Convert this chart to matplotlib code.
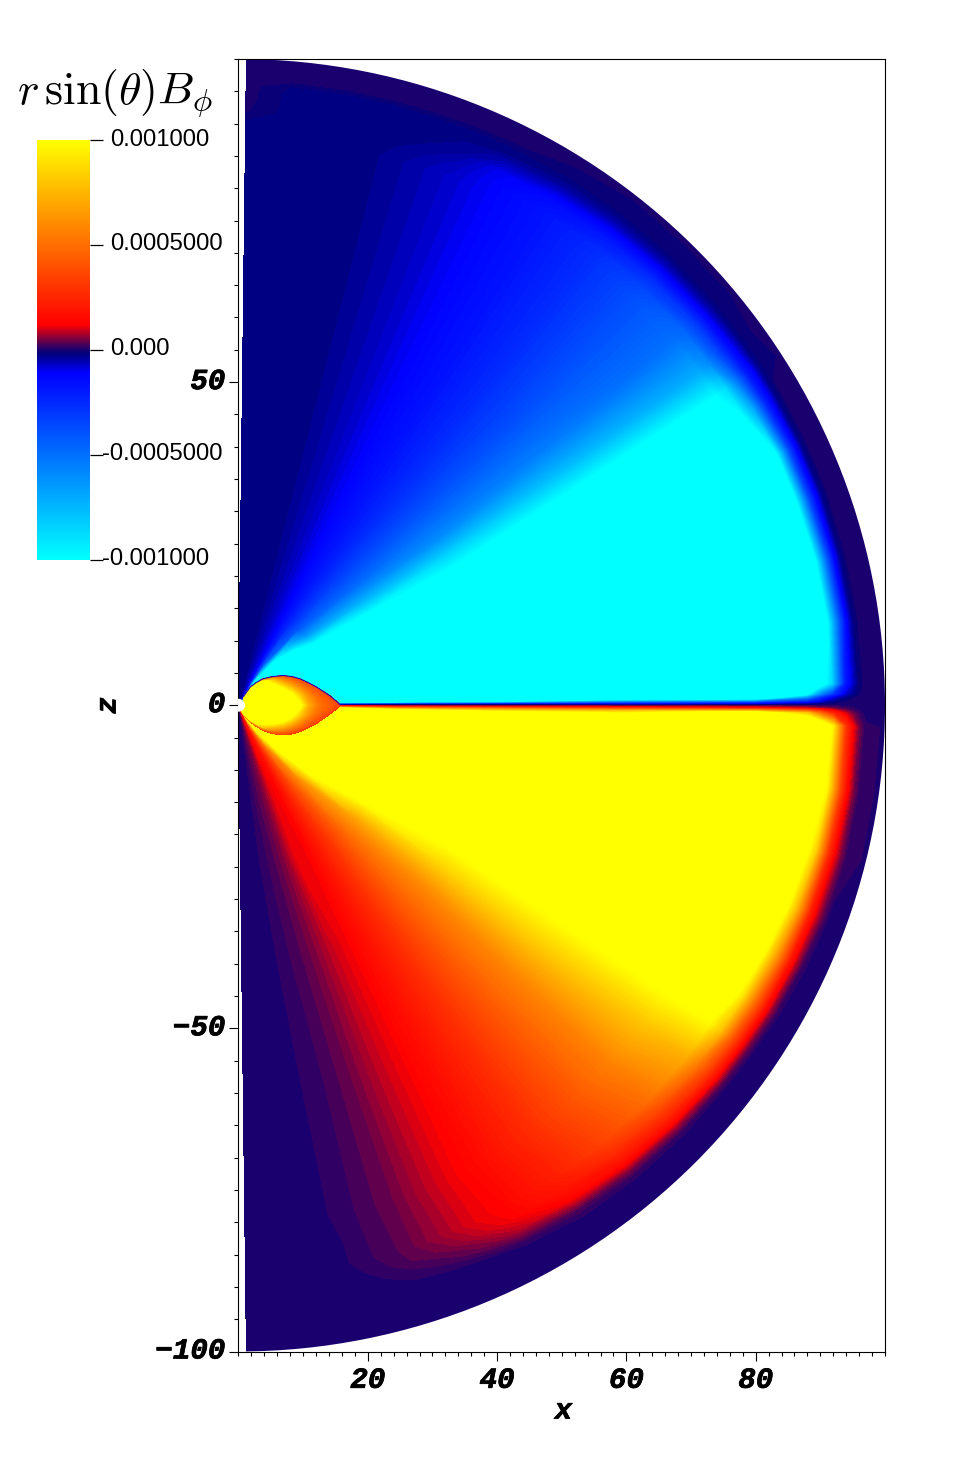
#!/usr/bin/env python3

import matplotlib

matplotlib.use("Agg")
import matplotlib.pyplot as plt
from matplotlib.cm import ScalarMappable
from matplotlib.colors import LinearSegmentedColormap, Normalize
from matplotlib.patches import Circle
import matplotlib.patheffects as pe
from matplotlib.ticker import MultipleLocator, NullFormatter
from matplotlib.transforms import ScaledTranslation
import numpy as np


# Field, units of 1e-3, on (theta, r) nodes
# last node sits outside the domain, the mesh gets clipped at r_max
r_max = 100
r_nodes = [1, 4, 8, 15, 25, 40, 60, 80, 88, 90, 92, 94, 95, 96, 97, 103]

# angle from +z
theta_up = [0.7, 5, 10, 14, 18, 22, 26, 32, 38, 44, 50, 54, 57, 60, 65, 70, 76, 82, 88, 89, 89.3, 89.8]
field_up = [
    [-.025, -.025, -.025, -.025, -.025, -.025, -.025, -.025, -.025, -.025, -.005, 0, 0, 0, 0, 0],
    [-.025, -.025, -.025, -.025, -.025, -.025, -.025, -.025, -.025, -.025, -.025, -.025, -.025, -.02, 0, 0],
    [-.025, -.025, -.025, -.025, -.025, -.025, -.025, -.025, -.025, -.025, -.025, -.025, -.025, -.02, 0, 0],
    [-.03, -.03, -.03, -.03, -.03, -.03, -.03, -.03, -.03, -.025, -.025, -.025, -.025, -.02, 0, 0],
    [-.05, -.05, -.05, -.05, -.05, -.05, -.05, -.05, -.05, -.04, -.028, -.025, -.025, -.02, 0, 0],
    [-.075, -.075, -.075, -.075, -.075, -.075, -.075, -.075, -.075, -.065, -.045, -.032, -.028, -.022, -.004, 0],
    [-.13, -.13, -.11, -.11, -.11, -.11, -.11, -.11, -.11, -.11, -.1, -.05, -.03, -.022, -.006, 0],
    [-1, -1, -.45, -.25, -.2, -.18, -.17, -.17, -.17, -.17, -.14, -.07, -.04, -.024, -.008, 0],
    [-1.3, -1.3, -1.05, -.42, -.33, -.28, -.26, -.26, -.26, -.25, -.19, -.09, -.05, -.026, -.01, 0],
    [-1.5, -1.5, -1.4, -.65, -.48, -.42, -.38, -.38, -.38, -.35, -.26, -.11, -.06, -.028, -.01, 0],
    [-1.5, -1.5, -1.5, -1, -.75, -.6, -.55, -.5, -.5, -.47, -.33, -.13, -.07, -.03, -.01, 0],
    [-1.5, -1.5, -1.5, -1.3, -.98, -.85, -.78, -.72, -.7, -.6, -.38, -.15, -.08, -.03, -.008, 0],
    [-1.5, -1.5, -1.5, -1.5, -1.15, -1, -1, -1, -1, -.88, -.55, -.2, -.11, -.035, -.01, 0],
    [-1.5, -1.5, -1.5, -1.5, -1.4, -1.4, -1.4, -1.4, -1.3, -1, -.7, -.25, -.11, -.03, -.003, 0],
    [-1.5, -1.5, -1.5, -1.5, -1.5, -1.5, -1.5, -1.5, -1.5, -1.3, -1, -.35, -.13, -.03, -.002, 0],
    [-1.5, -1.5, -1.5, -1.5, -1.5, -1.5, -1.5, -1.5, -1.5, -1.3, -1, -.35, -.13, -.03, -.002, 0],
    [-1.5, -1.5, -1.5, -1.5, -1.5, -1.5, -1.5, -1.5, -1.5, -1.4, -1.05, -.4, -.12, -.025, 0, 0],
    [-1.5, -1.5, -1.5, -1.5, -1.5, -1.5, -1.5, -1.5, -1.5, -1.4, -1.05, -.4, -.12, -.025, 0, 0],
    [-1.5, -1.5, -1.5, -1.5, -1.5, -1.5, -1.5, -1.5, -1.4, -1.15, -.85, -.2, -.09, -.02, 0, 0],
    [-1.5, -1.5, -1.5, -1.5, -1.5, -1.5, -1.4, -1.4, -1, -.6, -.3, -.08, -.04, -.01, 0, 0],
    [-.5, -.5, -.5, -.5, -.7, -1.1, -.95, -1.2, -.6, -.3, -.1, -.03, -.01, 0, 0, 0],
    [-.1, -.1, -.1, -.1, -.05, -.1, -.2, -.2, -.1, -.05, -.02, 0, 0, 0, 0, 0],
]

field_sheet = [0, 0, 0, 0, 0, 0, 0, 0, 0, 0, 0, 0, 0, 0, 0, 0]

# angle from -z
theta_low = [89.7, 89.2, 88, 82, 76, 70, 65, 60, 56, 52, 46, 40, 34, 28, 25, 21, 17, 14, 11, 8, 5, 0.7]
field_low = [
    [.1, .1, .1, .1, .1, .12, .15, .15, .1, .07, .05, .02, .01, 0, 0, 0],
    [.4, .4, .4, .4, .4, .6, .75, 1.1, .8, .5, .25, .1, .05, .02, 0, 0],
    [1.3, 1.3, 1.3, 1.3, 1.3, 1.4, 1.5, 1.5, 1.5, 1.3, .95, .3, .13, .05, .01, 0],
    [1.5, 1.5, 1.5, 1.5, 1.5, 1.5, 1.5, 1.5, 1.5, 1.2, .95, .35, .14, .05, .01, 0],
    [1.5, 1.5, 1.5, 1.5, 1.5, 1.5, 1.5, 1.5, 1.5, 1.15, .85, .28, .12, .05, .01, 0],
    [1.5, 1.5, 1.5, 1.5, 1.5, 1.5, 1.5, 1.5, 1.5, 1.1, .72, .22, .1, .04, .005, 0],
    [1.5, 1.5, 1.5, 1.5, 1.5, 1.5, 1.5, 1.5, 1.3, .98, .6, .18, .08, .02, 0, 0],
    [1.5, 1.5, 1.5, 1.5, 1.5, 1.5, 1.5, 1.4, 1.15, .9, .5, .15, .06, .01, 0, 0],
    [1.5, 1.5, 1.5, 1.4, 1.1, 1, 1, 1, .98, .78, .42, .12, .04, .005, 0, 0],
    [1.5, 1.5, 1.5, 1.25, .98, .86, .84, .8, .72, .55, .34, .1, .03, 0, 0, 0],
    [1.5, 1.5, 1.4, 1, .68, .6, .58, .56, .5, .38, .24, .07, .02, 0, 0, 0],
    [1.5, 1.5, 1, .62, .48, .44, .42, .4, .35, .28, .18, .05, .015, 0, 0, 0],
    [1.2, 1, .55, .38, .3, .28, .27, .26, .22, .19, .13, .03, .01, 0, 0, 0],
    [1, .4, .25, .2, .17, .16, .16, .15, .13, .12, .08, .015, 0, 0, 0, 0],
    [.2, .2, .16, .13, .12, .12, .12, .12, .11, .09, .05, .005, 0, 0, 0, 0],
    [.12, .12, .12, .11, .115, .09, .085, .08, .07, .05, .025, 0, 0, 0, 0, 0],
    [.07, .07, .06, .06, .06, .05, .045, .04, .035, .03, .012, 0, 0, 0, 0, 0],
    [.04, .04, .04, .04, .035, .03, .025, .025, .02, .012, .003, 0, 0, 0, 0, 0],
    [.02, .02, .025, .025, .02, .016, .01, .008, .005, 0, 0, 0, 0, 0, 0, 0],
    [.007, .007, .007, .007, .007, .004, .003, .003, 0, 0, 0, 0, 0, 0, 0, 0],
    [0, 0, 0, 0, 0, 0, 0, 0, 0, 0, 0, 0, 0, 0, 0, 0],
    [0, 0, 0, 0, 0, 0, 0, 0, 0, 0, 0, 0, 0, 0, 0, 0],
]

# Torus near the origin
torus_x = [.75, 1.8, 2.8, 3.8, 5.3, 6.9, 8.2, 9.5, 10.8, 12.1, 13.1, 14.1, 15, 15.7]
torus_top = [1.3, 2.8, 3.55, 4.1, 4.45, 4.6, 4.45, 4.1, 3.5, 2.8, 2.15, 1.5, .75, .1]
torus_bot = [-1.5, -2.6, -3.3, -3.9, -4.4, -4.6, -4.45, -4.1, -3.5, -2.8, -2.1, -1.4, -.7, -.1]
torus_frac = [0, .06, .3, .5, .7, .94, 1]
torus_field = [
    [.25, .25, .3, .3, .3, .3, .3, .3, .3, .3, .3, .3, .3, .3],
    [1.2, 1, .9, .8, .6, .5, .45, .42, .4, .38, .36, .34, .32, .3],
    [1.5, 1.5, 1.5, 1.5, 1.4, 1.2, 1, .8, .62, .5, .45, .42, .38, .33],
    [1.5, 1.5, 1.5, 1.5, 1.5, 1.5, 1.5, 1.05, .72, .55, .48, .44, .38, .33],
    [1.5, 1.5, 1.5, 1.5, 1.4, 1.2, 1, .8, .62, .5, .45, .42, .38, .33],
    [1.3, 1.3, 1.2, 1.1, .8, .55, .48, .44, .42, .4, .38, .35, .33, .3],
    [.35, .35, .35, .35, .35, .35, .35, .35, .35, .35, .35, .35, .35, .35],
]

cbar_ticks = [-0.001, -0.0005, 0, 0.0005, 0.001]
cbar_labels = ["-0.001000", "-0.0005000", "0.000", "0.0005000", "0.001000"]

W, H = 970, 1460
tickfont = dict(
    family="Liberation Mono",
    fontweight="bold",
    style="italic",
    fontsize=21,
    path_effects=[pe.withStroke(linewidth=0.5, foreground="black")],
)

cmap = LinearSegmentedColormap.from_list(
    "bphi",
    [
        (0.0, "#00ffff"),
        (0.445, "#0000ff"),
        (0.49, "#00007d"),
        (0.5, "#180070"),
        (0.56, "#ff0000"),
        (1.0, "#ffff00"),
    ],
    N=1024,
)
norm = Normalize(-0.001, 0.001)
levels = np.linspace(-0.001, 0.001, 160)


if __name__ == "__main__":

    fig = plt.figure(figsize=(W / 100, H / 100), dpi=100)
    ax = fig.add_axes([238.5 / W, 1 - 1351.5 / H, 646.5 / W, 1292.5 / H])

    # Main field on the (theta, r) mesh
    theta = np.radians(theta_up + [90] + [180 - t for t in theta_low])
    field = np.array(field_up + [field_sheet] + field_low) * 1e-3
    rr, tt = np.meshgrid(r_nodes, theta)
    cs = ax.contourf(rr * np.sin(tt), rr * np.cos(tt), field, levels=levels,
                     cmap=cmap, norm=norm, extend="both")
    cs.set_clip_path(Circle((0, 0), r_max, transform=ax.transData))

    # Torus on its own mesh
    tx = np.array(torus_x)
    top = np.array(torus_top)
    bot = np.array(torus_bot)
    frac = np.array(torus_frac)[:, None]
    ax.contourf(np.tile(tx, (len(torus_frac), 1)), bot + frac * (top - bot),
                np.array(torus_field) * 1e-3, levels=levels,
                cmap=cmap, norm=norm, extend="both")
    ax.plot(torus_x, torus_top, color="#0000d0", lw=0.7)
    ax.add_patch(Circle((0, 0), r_nodes[0], fc="white", ec="none", zorder=3))

    ax.set_xlim(0, 100)
    ax.set_ylim(-100, 100)

    # Axes and ticks
    ax.set_xticks([20, 40, 60, 80])
    ax.set_yticks([-100, -50, 0, 50])
    ax.xaxis.set_minor_locator(MultipleLocator(2))
    ax.yaxis.set_minor_locator(MultipleLocator(5))
    ax.xaxis.set_minor_formatter(NullFormatter())
    ax.yaxis.set_minor_formatter(NullFormatter())
    ax.tick_params(which="major", length=6.5, width=0.8)
    ax.tick_params(axis="x", which="major", pad=3.8)
    ax.tick_params(axis="y", which="major", pad=3)
    ax.tick_params(which="minor", length=3.2, width=0.8)
    plt.setp(ax.get_xticklabels() + ax.get_yticklabels(), **tickfont)
    shift_up = ScaledTranslation(0, 4 / 100, fig.dpi_scale_trans)
    for lbl in ax.get_yticklabels():
        lbl.set_transform(lbl.get_transform() + shift_up)
    for s in ax.spines.values():
        s.set_linewidth(0.8)

    ax.set_xlabel("x", **tickfont)
    ax.set_ylabel("z", **tickfont)
    ax.xaxis.set_label_coords(0.5025, -0.0349, transform=ax.transAxes)
    ax.yaxis.set_label_coords(-0.1809, 0.5, transform=ax.transAxes)

    # Colorbar
    cax = fig.add_axes([37 / W, 1 - 559.5 / H, 53 / W, 419.5 / H])
    cb = fig.colorbar(ScalarMappable(norm=norm, cmap=cmap), cax=cax, ticks=cbar_ticks)
    cb.outline.set_visible(False)
    cb.ax.set_yticklabels([])
    cb.ax.tick_params(length=9.5, width=0.9)
    for val, lab in zip(cbar_ticks, cbar_labels):
        dx = 9.0 if lab.startswith("-") else 14.6
        cb.ax.annotate(lab, xy=(1, val), xycoords=("axes fraction", "data"),
                       xytext=(dx, 0.3), textcoords="offset points", va="center",
                       family="Liberation Sans", fontsize=17.2, annotation_clip=False)

    fig.text(115 / W, 1 - 93 / H, r"$r\,\sin(\theta)B_\phi$", ha="center", va="center",
             fontsize=33, math_fontfamily="cm")

    fig.savefig("out.png", dpi=100)
